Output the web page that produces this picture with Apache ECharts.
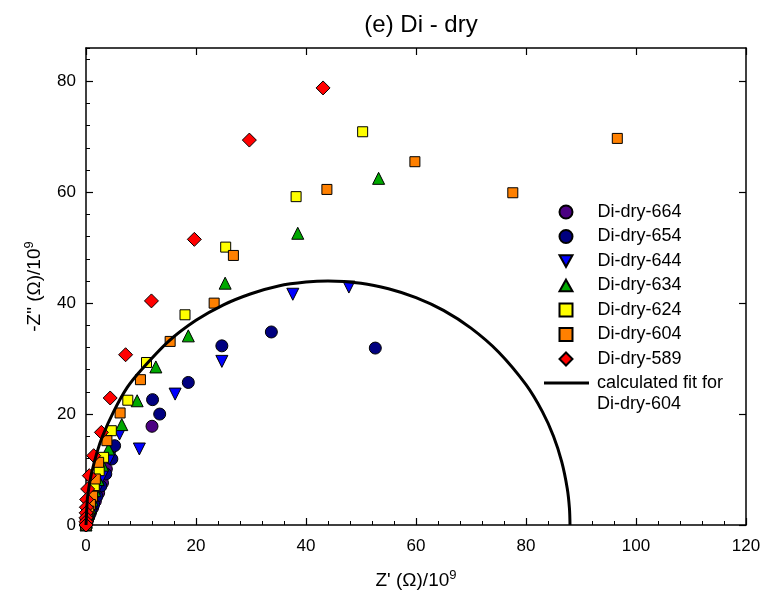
<!DOCTYPE html>
<html>
<head>
<meta charset="utf-8">
<script src="https://cdn.jsdelivr.net/npm/echarts@6/dist/echarts.min.js"></script>
<style>html,body{margin:0;padding:0;background:#fff;}#c{width:764px;height:605px;}</style>
</head>
<body>
<div id="c"></div>
<script>
// ---- data ----
const seriesNames = ['Di-dry-664','Di-dry-654','Di-dry-644','Di-dry-634','Di-dry-624','Di-dry-604','Di-dry-589'];
const fitName = 'calculated fit for';
const fitName2 = 'Di-dry-604';

const x664 = [12.0, 3.7, 3.0, 2.3, 1.7, 1.2, 0.8, 0.5, 0.3, 0.15, 0.05, 0];
const y664 = [17.8, 10.1, 7.6, 5.8, 4.3, 3.1, 2.2, 1.5, 1.0, 0.6, 0.3, 0];

const x654 = [52.6, 33.7, 24.7, 18.6, 13.4, 12.1, 5.2, 4.7, 3.6, 2.7, 2.0, 1.4, 0.9, 0.55, 0.3, 0.12, 0];
const y654 = [31.9, 34.8, 32.3, 25.7, 20.0, 22.6, 14.3, 11.9, 9.2, 7.0, 5.2, 3.7, 2.6, 1.7, 1.0, 0.4, 0];

const x644 = [47.8, 37.6, 24.7, 16.2, 9.7, 6.1, 4.3, 3.0, 2.1, 1.5, 1.0, 0.6, 0.35, 0.15, 0];
const y644 = [42.9, 41.6, 29.5, 23.6, 13.7, 16.4, 12.0, 8.8, 6.5, 4.7, 3.3, 2.2, 1.3, 0.6, 0];

const x634 = [53.2, 38.5, 25.3, 18.6, 12.7, 9.3, 6.5, 4.1, 3.0, 2.2, 1.6, 1.1, 0.7, 0.4, 0.2, 0.08, 0];
const y634 = [62.5, 52.6, 43.6, 34.1, 28.5, 22.4, 18.1, 13.7, 10.8, 8.2, 6.2, 4.5, 3.2, 2.1, 1.2, 0.5, 0];

const x624 = [50.3, 38.2, 25.4, 18.0, 11.0, 7.6, 4.6, 3.2, 2.4, 1.5, 1.0, 0.6, 0.35, 0.2, 0.08, 0];
const y624 = [70.9, 59.2, 50.1, 37.9, 29.3, 22.5, 17.0, 12.2, 9.8, 7.1, 5.2, 3.7, 2.5, 1.5, 0.7, 0];

const x604 = [96.6, 77.6, 59.8, 43.8, 26.8, 23.3, 15.3, 9.9, 6.2, 3.8, 2.3, 1.7, 1.2, 0.8, 0.5, 0.3, 0.15, 0];
const y604 = [69.7, 59.9, 65.5, 60.5, 48.6, 40.0, 33.1, 26.2, 20.2, 15.2, 11.3, 8.3, 5.2, 3.7, 2.5, 1.5, 0.7, 0];

const x589 = [43.1, 29.7, 19.7, 11.9, 7.2, 4.4, 2.8, 1.4, 0.6, 0.3, 0.12, 0.06, 0.03, 0.01, 0, 0];
const y589 = [78.8, 69.4, 51.5, 40.4, 30.7, 22.9, 16.7, 12.5, 8.9, 6.5, 4.6, 3.2, 2.2, 1.3, 0.6, 0];

const xFit = [0, 0.25, 0.5, 1, 2, 3, 5, 7.5, 10, 15, 20, 25, 30, 35, 40, 44, 50, 55, 60, 65, 70, 75, 80, 83, 85, 86.5, 87.5, 87.9, 88];
const yFit = [0, 4.7, 6.6, 9.3, 13.1, 16.0, 20.4, 24.8, 27.9, 33.1, 36.9, 39.7, 41.7, 43.1, 43.8, 44.0, 43.6, 42.6, 41.0, 38.7, 35.5, 31.2, 25.3, 20.4, 16.0, 11.4, 6.6, 3.0, 0];

const xTicks = [0, 20, 40, 60, 80, 100, 120];
const yTicks = [0, 20, 40, 60, 80];

// ---- build chart ----
const xs = [x664, x654, x644, x634, x624, x604, x589];
const ys = [y664, y654, y644, y634, y624, y604, y589];
const colors = ['#4B0082', '#000080', '#0000FF', '#00A800', '#FFFF00', '#FF8000', '#FF0000'];
const symbols = ['circle', 'circle', 'triangle', 'triangle', 'rect', 'rect', 'diamond'];
const rotates = [0, 0, 180, 0, 0, 0, 0];
const sizes = [12, 12, 12, 12, 10, 10, 14];
const legendIcons = ['circle', 'circle', 'path://M0,0L10,0L5,9Z', 'path://M5,0L10,9L0,9Z',
  'path://M1,1L9,1L9,9L1,9Z', 'path://M1,1L9,1L9,9L1,9Z', 'diamond'];

const zip = (a, b) => a.map((v, i) => [v, b[i]]);
const FONT = 'Liberation Sans, Arial, sans-serif';

const series = seriesNames.map((n, i) => ({
  name: n,
  type: 'scatter',
  data: zip(xs[i], ys[i]),
  symbol: symbols[i],
  symbolRotate: rotates[i],
  symbolSize: sizes[i],
  itemStyle: { color: colors[i], borderColor: '#000', borderWidth: 1, opacity: 1 },
  z: 2 + i * 0.01,
  clip: false
}));
series.push({
  name: fitName,
  type: 'line',
  data: zip(xFit, yFit),
  symbol: 'none',
  smooth: 0.3,
  lineStyle: { color: '#000', width: 3 },
  itemStyle: { color: '#000' },
  z: 5
});

const yMax = 86;
const axisColor = '#000';

const option = {
  backgroundColor: '#fff',
  animation: false,
  title: {
    text: '(e) Di - dry',
    left: 416, top: 8, textAlign: 'center',
    textStyle: { fontFamily: FONT, fontSize: 24, fontWeight: 'normal', color: '#000' }
  },
  grid: { left: 86, right: 18, top: 48, bottom: 80 },
  legend: [
    {
      data: seriesNames.map((n, i) => ({ name: n, icon: legendIcons[i] })),
      orient: 'vertical', left: 553.5, top: 198,
      itemWidth: 13, itemHeight: 13, itemGap: 6.5,
      textStyle: { fontFamily: FONT, fontSize: 18, color: '#000', padding: [0, 0, 0, 20] }
    },
    {
      data: [{ name: fitName, icon: 'path://M0,0L45,0L45,3L0,3Z' }],
      orient: 'vertical', left: 539, top: 369,
      itemWidth: 45, itemHeight: 3,
      textStyle: { fontFamily: FONT, fontSize: 18, color: '#000', padding: [0, 0, 0, 3] }
    }
  ],
  graphic: [{
    type: 'text', left: 597, top: 395,
    style: { text: fitName2, font: '18px ' + FONT, fill: '#000' }
  }],
  xAxis: [
    {
      type: 'value', position: 'bottom', min: 0, max: 120, interval: 20,
      name: "Z' (Ω)/10{sup|9}", nameLocation: 'middle', nameGap: 44,
      nameTextStyle: { fontFamily: FONT, fontSize: 19, color: '#000',
        rich: { sup: { fontFamily: FONT, fontSize: 13, color: '#000', verticalAlign: 'top', padding: [0, 0, 10, 0] } } },
      axisLine: { show: true, onZero: false, lineStyle: { color: axisColor, width: 1.5 } },
      axisTick: { show: true, inside: true, length: 7, lineStyle: { color: axisColor, width: 1.2 }, customValues: xTicks },
      minorTick: { show: true, splitNumber: 5, length: 4, lineStyle: { color: axisColor, width: 1 } },
      axisLabel: { fontFamily: FONT, fontSize: 17, color: '#000', margin: 13, customValues: xTicks },
      splitLine: { show: false }, minorSplitLine: { show: false }
    },
    {
      type: 'value', position: 'top', min: 0, max: 120, interval: 20,
      axisLine: { show: true, onZero: false, lineStyle: { color: axisColor, width: 1.5 } },
      axisTick: { show: true, inside: true, length: 7, lineStyle: { color: axisColor, width: 1.2 } },
      axisLabel: { show: false }, splitLine: { show: false }
    }
  ],
  yAxis: [
    {
      type: 'value', position: 'left', min: 0, max: yMax, interval: 20,
      name: '-Z" (Ω)/10{sup|9}', nameLocation: 'middle', nameGap: 40, nameRotate: 90,
      nameTextStyle: { fontFamily: FONT, fontSize: 19, color: '#000',
        rich: { sup: { fontFamily: FONT, fontSize: 13, color: '#000', verticalAlign: 'top', padding: [0, 0, 10, 0] } } },
      axisLine: { show: true, onZero: false, lineStyle: { color: axisColor, width: 1.5 } },
      axisTick: { show: true, inside: true, length: 7, lineStyle: { color: axisColor, width: 1.2 }, customValues: yTicks },
      axisLabel: { fontFamily: FONT, fontSize: 17, color: '#000', margin: 10, customValues: yTicks },
      splitLine: { show: false }
    },
    {
      type: 'value', position: 'left', min: 0, max: yMax, interval: 4,
      axisLine: { show: false },
      axisTick: { show: true, inside: true, length: 4, lineStyle: { color: axisColor, width: 1 } },
      axisLabel: { show: false }, splitLine: { show: false }
    },
    {
      type: 'value', position: 'right', min: 0, max: yMax, interval: 20,
      axisLine: { show: true, onZero: false, lineStyle: { color: axisColor, width: 1.5 } },
      axisTick: { show: true, inside: true, length: 7, lineStyle: { color: axisColor, width: 1.2 }, customValues: yTicks },
      axisLabel: { show: false }, splitLine: { show: false }
    }
  ],
  series: series
};

const chart = echarts.init(document.getElementById('c'), null, { renderer: 'canvas' });
chart.setOption(option);
</script>
</body>
</html>
